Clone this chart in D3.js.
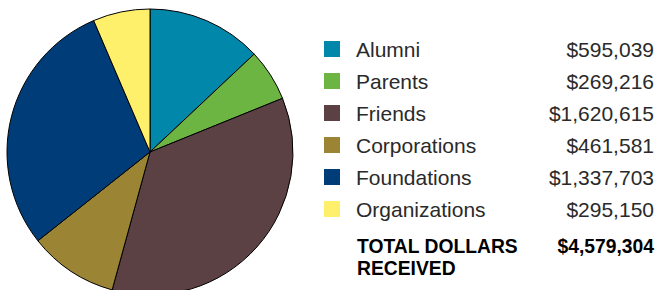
<!DOCTYPE html>
<html>
<head>
<meta charset="utf-8">
<script src="https://cdn.jsdelivr.net/npm/d3@7"></script>
<style>
  body { margin: 0; background: #fff; }
  svg { display: block; }
</style>
</head>
<body>
<svg id="chart" width="658" height="290"></svg>
<script>
// gift sources, clockwise from 12 o'clock
var categories = ['Alumni', 'Parents', 'Friends', 'Corporations', 'Foundations', 'Organizations'];
var amounts = [595039, 269216, 1620615, 461581, 1337703, 295150];
var amountLabels = ['$595,039', '$269,216', '$1,620,615', '$461,581', '$1,337,703', '$295,150'];
var colors = ['#0087aa', '#6db543', '#5b4143', '#9b8434', '#003d78', '#fff06b'];
var totalLabel = ['TOTAL DOLLARS', 'RECEIVED'];
var totalValue = '$4,579,304';

var svg = d3.select('#chart');

var color = d3.scaleOrdinal().domain(categories).range(colors);

var pie = d3.pie().sort(null).value(function(d) { return d.value; });
var arc = d3.arc().innerRadius(0).outerRadius(143);

var data = categories.map(function(c, i) {
  return { name: c, value: amounts[i], label: amountLabels[i] };
});

var g = svg.append('g').attr('transform', 'translate(150,152)');

g.selectAll('path')
  .data(pie(data))
  .enter()
  .append('path')
  .attr('d', arc)
  .attr('fill', function(d) { return color(d.data.name); })
  .attr('stroke', '#000')
  .attr('stroke-width', 1)
  .attr('stroke-linejoin', 'round');

// legend
var rowY = d3.scaleBand().domain(categories).range([33, 225]);

var rows = svg.selectAll('g.row')
  .data(data)
  .enter()
  .append('g')
  .attr('class', 'row')
  .attr('transform', function(d) { return 'translate(0,' + (rowY(d.name) + rowY.bandwidth() / 2) + ')'; });

rows.append('rect')
  .attr('x', 324)
  .attr('y', -8)
  .attr('width', 16)
  .attr('height', 16)
  .attr('fill', function(d) { return color(d.name); });

rows.append('text')
  .attr('x', 356)
  .attr('y', 7.5)
  .attr('font-family', '"Liberation Sans", Arial, sans-serif')
  .attr('font-size', 21)
  .attr('fill', '#2a2a2a')
  .text(function(d) { return d.name; });

rows.append('text')
  .attr('x', 654)
  .attr('y', 7.5)
  .attr('text-anchor', 'end')
  .attr('font-family', '"Liberation Sans", Arial, sans-serif')
  .attr('font-size', 21)
  .attr('fill', '#2a2a2a')
  .text(function(d) { return d.label; });

var total = svg.append('g')
  .attr('font-family', '"Liberation Sans", Arial, sans-serif')
  .attr('font-weight', 'bold')
  .attr('font-size', 19.3)
  .attr('fill', '#000');

total.selectAll('text.lbl')
  .data(totalLabel)
  .enter()
  .append('text')
  .attr('class', 'lbl')
  .attr('x', 357)
  .attr('y', function(d, i) { return 253 + i * 22; })
  .text(function(d) { return d; });

total.append('text')
  .attr('x', 654)
  .attr('y', 253)
  .attr('text-anchor', 'end')
  .text(totalValue);
</script>
</body>
</html>
